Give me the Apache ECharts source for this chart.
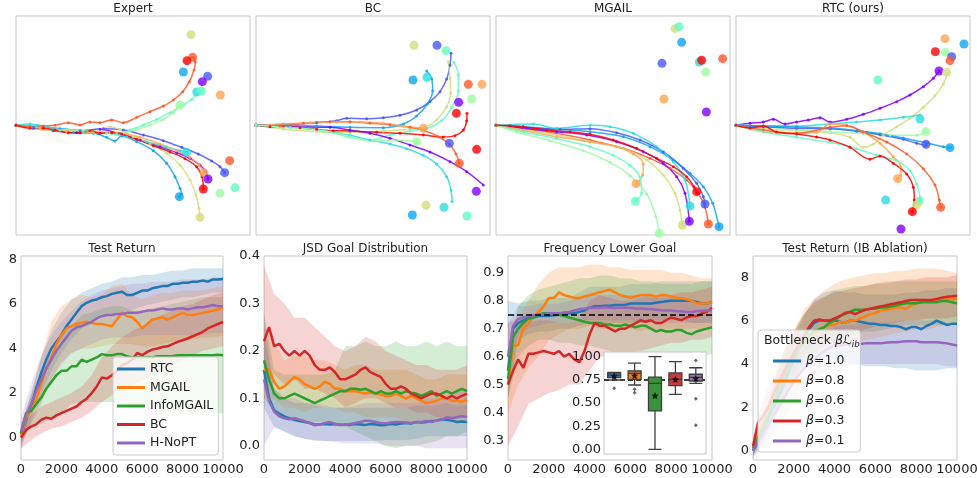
<!DOCTYPE html>
<html>
<head>
<meta charset="utf-8">
<script src="https://cdn.jsdelivr.net/npm/echarts@6.0.0/dist/echarts.min.js"></script>
<style>
html, body { margin: 0; padding: 0; background: #fff; }
#main { width: 977px; height: 478px; }
</style>
</head>
<body>
<div id="main"></div>
<script>
// rainbow colormap, 10 goals / agents
const trajColors = ['#8000ff', '#4757fb', '#0ea4f0', '#2adddd', '#63fbc3', '#9cfba4', '#d4dd80', '#ffa457', '#ff572c', '#ff0000']

// ---- top row: trajectories (plot units, y grows downwards) ----
// goals: [x, y, colour]
const expertGoals = [[573,104,6],[578,172,8],[561,182,9],[550,216,2],[623,229,1],[607,245,0],[590,276,3],[604,273,4],[661,285,7],[540,315,5],
  [560,457,3],[689,482,8],[674,518,1],[612,518,7],[624,537,0],[610,567,9],[705,563,4],[660,580,5],[538,590,2],[600,652,6]]
const expertPaths = [
  [0, [[48,376],[100,385],[160,392],[230,398],[300,388],[360,402],[420,420],[480,440],[530,458],[570,475],[600,495],[617,515],[624,537]]],
  [1, [[48,376],[110,380],[180,386],[240,392],[310,386],[370,390],[430,405],[490,422],[545,442],[595,462],[635,483],[660,500],[674,518]]],
  [2, [[48,376],[100,382],[160,390],[220,398],[280,400],[320,412],[345,423],[365,408],[410,425],[460,452],[500,490],[525,530],[540,565],[545,582],[538,590]]],
  [3, [[48,376],[90,372],[140,380],[200,388],[260,392],[320,398],[380,410],[440,425],[500,442],[540,452],[560,457]]],
  [4, [[48,376],[110,382],[180,390],[250,395],[320,400],[360,405],[390,390],[430,375],[470,358],[510,338],[545,318],[575,298],[595,280],[604,273]]],
  [5, [[48,376],[120,384],[200,390],[270,392],[330,400],[370,398],[410,388],[450,375],[490,358],[520,338],[540,315]]],
  [6, [[48,376],[90,383],[130,390],[200,392],[270,395],[330,380],[360,388],[400,410],[450,432],[500,460],[540,495],[570,540],[588,585],[597,625],[600,652]]],
  [7, [[48,376],[120,386],[200,394],[280,398],[350,398],[420,412],[480,432],[530,452],[570,472],[598,495],[612,518]]],
  [8, [[48,376],[90,380],[130,378],[165,376],[205,368],[240,375],[270,366],[300,368],[335,360],[370,368],[410,352],[450,335],[490,318],[520,300],[548,275],[568,245],[582,210],[586,185],[578,172]]],
  [9, [[48,376],[90,385],[130,385],[165,390],[205,398],[240,398],[270,392],[300,400],[335,398],[365,402],[410,418],[460,437],[510,456],[555,476],[590,500],[606,530],[610,567]]]
]

const bcGoals = [[492,136,6],[561,136,1],[588,152,4],[489,240,2],[531,232,3],[655,253,8],[696,253,7],[626,307,0],[665,297,5],[619,340,9],
  [598,430,1],[680,448,9],[628,490,8],[679,574,0],[528,616,6],[582,622,3],[487,645,2],[651,648,4],[520,385,7],[500,425,5]]
const bcPaths = [
  [1, [[18,376],[100,373],[200,368],[260,362],[290,355],[350,356],[400,353],[450,346],[500,330],[540,305],[570,275],[590,237],[600,195],[603,160]]],
  [2, [[18,376],[100,375],[200,378],[300,382],[400,383],[460,372],[500,348],[532,312],[548,272],[545,236],[530,213]]],
  [6, [[18,376],[100,387],[200,395],[300,397],[400,393],[480,388],[525,382],[560,360],[590,320],[602,280],[600,235],[595,185]]],
  [4, [[18,376],[120,380],[220,392],[300,412],[360,420],[420,405],[480,393],[530,385],[575,362],[605,322],[625,272],[625,225],[612,187]]],
  [9, [[18,376],[60,380],[100,377],[150,383],[200,388],[250,392],[300,393],[380,397],[450,400],[520,405],[580,411],[615,407],[640,390],[650,362],[651,340]]],
  [8, [[18,376],[90,378],[160,370],[240,365],[300,365],[360,370],[420,374],[480,382],[525,392],[565,410],[598,432],[618,462],[628,490]]],
  [7, [[18,376],[100,372],[180,368],[260,366],[330,366],[400,370],[460,378],[520,385]]],
  [0, [[18,376],[120,380],[240,382],[300,390],[360,400],[420,415],[480,435],[540,456],[600,485],[650,515],[700,555]]],
  [3, [[18,376],[120,382],[220,392],[300,406],[360,420],[420,432],[470,446],[520,466],[560,492],[590,530],[603,570],[606,605]]],
  [5, [[18,376],[120,383],[220,392],[300,410],[370,423],[430,420],[500,425]]]
]

const mgailGoals = [[555,86,6],[567,80,4],[575,127,2],[516,190,1],[628,186,3],[635,181,9],[698,176,8],[647,216,5],[522,297,7],[649,336,0],
  [438,551,7],[436,604,4],[508,700,5],[600,618,3],[645,612,1],[577,675,6],[598,664,0],[655,672,8],[687,680,2],[620,575,9]]
const mgailPaths = [
  [2, [[18,376],[100,380],[200,388],[300,395],[400,410],[480,440],[550,480],[600,520],[640,560],[668,610],[687,680]]],
  [8, [[18,376],[100,386],[200,400],[300,420],[400,445],[480,475],[540,505],[590,540],[625,580],[645,622],[655,672]]],
  [1, [[18,376],[100,382],[210,388],[300,386],[380,398],[450,420],[520,456],[580,505],[620,550],[640,590],[645,612]]],
  [3, [[18,376],[130,372],[200,385],[300,376],[360,380],[430,400],[500,440],[550,486],[585,540],[600,618]]],
  [0, [[18,376],[100,385],[200,395],[290,405],[380,425],[460,455],[520,490],[560,530],[585,580],[598,664]]],
  [6, [[18,376],[100,390],[200,405],[300,425],[400,446],[470,480],[520,525],[555,580],[570,630],[577,675]]],
  [7, [[18,376],[100,392],[200,410],[300,426],[380,440],[430,462],[460,492],[458,525],[438,551]]],
  [4, [[18,376],[100,396],[200,416],[300,440],[370,466],[420,496],[450,532],[455,580],[436,604]]],
  [5, [[18,376],[80,396],[180,422],[280,452],[360,487],[420,527],[470,582],[498,650],[508,700]]],
  [9, [[18,376],[60,377],[100,380],[170,390],[240,395],[300,403],[370,420],[440,445],[500,475],[550,500],[590,530],[612,560],[620,578]]]
]

const rtcGoals = [[645,116,7],[702,132,2],[616,155,9],[646,157,5],[665,170,1],[660,182,8],[627,213,0],[650,217,6],[444,240,4],[570,357,3],
  [588,395,5],[588,433,1],[660,443,2],[503,536,7],[467,600,3],[568,603,4],[560,615,6],[547,635,9],[632,622,8],[513,687,0]]
const rtcPaths = [
  [0, [[18,376],[60,370],[100,366],[130,358],[165,372],[200,366],[235,360],[270,353],[300,366],[350,358],[400,343],[450,325],[500,305],[540,285],[580,260],[610,235],[627,213]]],
  [6, [[18,376],[100,386],[200,392],[300,398],[360,412],[400,442],[430,432],[460,405],[500,380],[540,355],[580,322],[615,287],[640,252],[652,220]]],
  [3, [[18,376],[100,378],[200,378],[300,372],[380,366],[450,360],[520,352],[570,345]]],
  [5, [[18,376],[100,380],[200,390],[300,396],[400,401],[480,405],[560,406],[588,395]]],
  [1, [[18,376],[100,380],[200,385],[300,386],[380,394],[450,404],[520,418],[560,430],[588,437]]],
  [2, [[18,376],[100,378],[200,381],[300,384],[380,392],[450,401],[520,414],[590,429],[640,440],[660,443]]],
  [7, [[18,376],[100,395],[200,400],[260,397],[300,372],[350,376],[400,396],[450,430],[490,470],[512,500],[512,525],[503,536]]],
  [8, [[18,376],[100,390],[200,400],[300,382],[350,377],[400,396],[470,426],[530,462],[580,506],[615,555],[628,600],[632,622]]],
  [4, [[18,376],[100,396],[200,412],[300,427],[380,446],[440,466],[500,482],[540,512],[560,552],[570,595],[568,603]]],
  [9, [[18,376],[60,384],[100,378],[140,396],[200,402],[260,411],[300,420],[360,442],[420,478],[450,468],[490,490],[530,522],[550,562],[553,600],[547,635]]]
]

// ---- bottom row: training curves ----
const methodNames = ['RTC', 'MGAIL', 'InfoMGAIL', 'BC', 'H-NoPT']
const betaNames = ['β=1.0', 'β=0.8', 'β=0.6', 'β=0.3', 'β=0.1']
const lineColors = ['#1f77b4', '#ff7f0e', '#2ca02c', '#d62728', '#9467bd']

const steps = [0,250,500,750,1000,1250,1500,1750,2000,2250,2500,2750,3000,3250,3500,3750,4000,4250,4500,4750,5000,
  5250,5500,5750,6000,6250,6500,6750,7000,7250,7500,7750,8000,8250,8500,8750,9000,9250,9500,9750,10000]
const bandSteps = [0,500,1000,1500,2000,2500,3000,3500,4000,4500,5000,5500,6000,6500,7000,7500,8000,8500,9000,9500,10000]

// Test Return
const retRTC = [0.1,0.8,1.4,2.2,2.9,3.5,4.0,4.3,4.6,5.0,5.3,5.6,5.9,6.05,6.15,6.2,6.3,6.35,6.45,6.5,6.55,6.4,6.4,6.5,6.6,6.6,6.7,6.75,6.8,6.8,6.9,6.9,6.95,6.95,7.0,7.0,7.05,7.0,7.1,7.1,7.12]
const retMGAIL = [0.1,0.9,1.2,1.7,2.4,3.1,3.6,4.2,4.6,4.9,5.0,5.1,5.15,5.2,5.15,5.1,5.1,5.05,5.0,5.3,5.6,5.45,5.4,5.2,4.9,5.1,5.3,5.35,5.4,5.3,5.4,5.5,5.6,5.5,5.5,5.55,5.6,5.65,5.7,5.75,5.85]
const retInfo = [0.2,1.1,1.2,1.5,1.8,2.2,2.5,2.8,3.0,3.0,3.2,3.2,3.5,3.4,3.5,3.6,3.75,3.7,3.7,3.75,3.75,3.65,3.6,3.6,3.6,3.6,3.6,3.65,3.65,3.65,3.65,3.7,3.7,3.7,3.7,3.7,3.7,3.7,3.7,3.72,3.7]
const retBC = [0.0,0.35,0.5,0.6,0.8,0.9,0.85,1.0,1.1,1.2,1.3,1.4,1.6,1.75,2.0,2.3,2.7,2.65,2.8,3.0,3.25,3.35,3.5,3.8,3.7,3.85,3.95,4.0,4.07,4.1,4.2,4.3,4.37,4.45,4.55,4.65,4.75,4.9,5.0,5.1,5.2]
const retHNoPT = [0.3,1.0,1.5,2.1,2.6,3.1,3.5,3.9,4.2,4.5,4.8,4.95,5.0,5.1,5.2,5.35,5.45,5.5,5.5,5.55,5.55,5.6,5.6,5.6,5.65,5.7,5.7,5.75,5.8,5.75,5.75,5.8,5.8,5.75,5.8,5.85,5.85,5.9,5.95,5.9,5.9]
const retLo = [
  [-0.4,0.9,2.0,3.0,3.8,4.4,4.9,5.2,5.4,5.5,5.6,5.7,5.9,6.0,6.1,6.2,6.3,6.3,6.4,6.5,6.5],
  [-0.3,0.6,1.5,2.6,3.4,3.8,4.0,4.0,4.1,4.2,4.2,4.2,4.1,4.1,4.2,4.3,4.3,4.4,4.5,4.5,4.6],
  [-0.2,0.5,0.6,0.9,1.1,1.5,1.6,1.6,1.6,1.6,1.6,1.5,1.4,1.3,1.2,1.2,1.1,1.1,1.1,1.1,1.1],
  [-0.5,-0.1,0.2,0.4,0.5,0.7,0.9,1.2,1.6,1.9,2.1,2.3,2.6,2.8,3.0,3.3,3.5,3.7,3.9,4.0,4.1],
  [-0.5,0.7,1.6,2.6,3.3,3.8,4.0,4.2,4.4,4.5,4.5,4.5,4.6,4.6,4.6,4.6,4.6,4.6,4.6,4.7,4.7]
]
const retHi = [
  [0.5,2.0,3.6,4.8,5.6,6.2,6.5,6.7,6.9,7.0,7.2,7.2,7.3,7.3,7.4,7.5,7.5,7.6,7.6,7.6,7.6],
  [0.6,1.9,3.6,5.2,5.9,6.2,6.4,6.3,6.4,6.8,6.9,6.4,6.2,6.4,6.5,6.5,6.6,6.6,6.6,6.7,6.8],
  [0.6,1.9,3.0,3.8,4.8,5.0,5.5,5.6,5.8,5.9,5.9,5.7,5.7,5.8,5.9,6.0,6.1,6.2,6.3,6.3,6.3],
  [0.5,1.0,1.4,1.6,1.8,2.0,2.3,2.8,3.6,4.1,4.5,4.8,5.0,5.3,5.5,5.7,5.9,6.0,6.2,6.4,6.5],
  [0.9,2.4,3.7,4.6,5.2,5.7,6.1,6.4,6.6,6.7,6.8,6.9,6.9,7.0,7.0,7.0,7.1,7.1,7.1,7.2,7.2]
]

// JSD Goal Distribution
const jsdRTC = [0.16,0.10,0.075,0.068,0.062,0.058,0.055,0.052,0.05,0.048,0.045,0.045,0.046,0.045,0.046,0.044,0.045,0.044,0.046,0.045,0.044,0.046,0.045,0.043,0.044,0.046,0.045,0.047,0.048,0.047,0.05,0.049,0.05,0.052,0.053,0.056,0.055,0.053,0.05,0.051,0.05]
const jsdMGAIL = [0.16,0.16,0.135,0.12,0.125,0.135,0.145,0.14,0.13,0.125,0.12,0.125,0.135,0.13,0.12,0.12,0.115,0.115,0.115,0.112,0.11,0.112,0.11,0.108,0.105,0.105,0.11,0.105,0.10,0.105,0.10,0.095,0.09,0.092,0.095,0.10,0.10,0.095,0.095,0.093,0.097]
const jsdInfo = [0.18,0.14,0.11,0.10,0.10,0.105,0.11,0.105,0.10,0.095,0.09,0.095,0.10,0.105,0.11,0.115,0.115,0.12,0.12,0.118,0.12,0.115,0.11,0.115,0.11,0.11,0.115,0.11,0.115,0.112,0.11,0.105,0.11,0.115,0.105,0.11,0.115,0.11,0.115,0.12,0.115]
const jsdBC = [0.22,0.25,0.21,0.215,0.2,0.19,0.2,0.19,0.2,0.19,0.17,0.16,0.16,0.165,0.155,0.14,0.14,0.145,0.15,0.16,0.165,0.155,0.15,0.145,0.13,0.12,0.12,0.125,0.12,0.11,0.105,0.1,0.105,0.11,0.11,0.105,0.1,0.105,0.10,0.105,0.11]
const jsdHNoPT = [0.14,0.095,0.072,0.062,0.058,0.056,0.058,0.055,0.052,0.048,0.043,0.045,0.048,0.05,0.046,0.045,0.044,0.046,0.048,0.05,0.053,0.052,0.05,0.048,0.047,0.049,0.05,0.05,0.049,0.048,0.05,0.05,0.052,0.05,0.053,0.055,0.06,0.058,0.06,0.062,0.06]
const jsdLo = [
  [0.08,0.04,0.03,0.02,0.015,0.012,0.01,0.01,0.01,0.01,0.01,0.01,0.012,0.012,0.012,0.015,0.02,0.02,0.02,0.02,0.02],
  [0.1,0.1,0.08,0.08,0.07,0.08,0.08,0.08,0.07,0.07,0.06,0.06,0.06,0.06,0.05,0.05,0.05,0.05,0.05,0.05,0.05],
  [0.1,0.07,0.06,0.05,0.05,0.05,0.05,0.04,0.04,0.03,0.02,0.01,0.0,-0.005,0.0,0.0,0.005,0.01,0.02,0.02,0.03],
  [0.12,0.15,0.13,0.14,0.12,0.12,0.11,0.1,0.08,0.09,0.1,0.1,0.09,0.08,0.08,0.07,0.07,0.06,0.06,0.06,0.06],
  [0.0,0.04,0.03,0.02,0.015,0.01,0.01,0.008,0.005,0.005,0.005,0.005,0.0,0.0,0.0,0.0,-0.005,-0.005,-0.005,-0.005,-0.005]
]
const jsdHi = [
  [0.24,0.12,0.1,0.09,0.09,0.085,0.08,0.08,0.08,0.08,0.08,0.08,0.08,0.08,0.08,0.085,0.085,0.085,0.09,0.085,0.085],
  [0.25,0.22,0.18,0.19,0.19,0.18,0.18,0.17,0.16,0.17,0.17,0.16,0.16,0.16,0.16,0.15,0.14,0.14,0.15,0.15,0.15],
  [0.28,0.16,0.15,0.15,0.15,0.15,0.15,0.16,0.21,0.21,0.22,0.21,0.21,0.22,0.21,0.21,0.22,0.21,0.22,0.21,0.21],
  [0.38,0.32,0.3,0.27,0.27,0.25,0.23,0.21,0.2,0.21,0.23,0.22,0.2,0.19,0.18,0.17,0.17,0.16,0.16,0.16,0.17],
  [0.28,0.12,0.1,0.1,0.09,0.09,0.085,0.08,0.08,0.085,0.09,0.09,0.09,0.09,0.09,0.09,0.1,0.1,0.1,0.12,0.12]
]

// Frequency Lower Goal
const frqRTC = [0.55,0.7,0.72,0.73,0.74,0.74,0.745,0.745,0.745,0.748,0.75,0.752,0.755,0.755,0.76,0.765,0.775,0.78,0.78,0.782,0.782,0.785,0.785,0.785,0.79,0.79,0.79,0.79,0.79,0.793,0.795,0.798,0.8,0.8,0.8,0.8,0.8,0.795,0.79,0.79,0.795]
const frqMGAIL = [0.5,0.64,0.64,0.7,0.72,0.74,0.76,0.78,0.81,0.81,0.83,0.82,0.815,0.81,0.81,0.815,0.82,0.825,0.83,0.835,0.84,0.83,0.82,0.815,0.81,0.815,0.82,0.82,0.82,0.815,0.82,0.82,0.815,0.81,0.81,0.805,0.8,0.79,0.79,0.79,0.795]
const frqInfo = [0.52,0.67,0.7,0.72,0.735,0.74,0.75,0.755,0.755,0.755,0.75,0.745,0.74,0.735,0.73,0.725,0.72,0.72,0.72,0.715,0.715,0.71,0.71,0.715,0.71,0.705,0.71,0.71,0.7,0.69,0.695,0.69,0.69,0.695,0.695,0.685,0.68,0.69,0.695,0.7,0.705]
const frqBC = [0.5,0.55,0.59,0.56,0.61,0.61,0.615,0.62,0.615,0.61,0.62,0.6,0.61,0.59,0.58,0.62,0.68,0.72,0.71,0.71,0.7,0.69,0.7,0.7,0.71,0.72,0.73,0.725,0.73,0.72,0.72,0.73,0.74,0.735,0.73,0.74,0.745,0.745,0.755,0.76,0.775]
const frqHNoPT = [0.6,0.71,0.735,0.74,0.745,0.748,0.75,0.752,0.755,0.755,0.755,0.758,0.76,0.765,0.77,0.772,0.775,0.775,0.775,0.777,0.775,0.775,0.775,0.775,0.775,0.772,0.772,0.77,0.77,0.768,0.766,0.765,0.765,0.762,0.762,0.76,0.76,0.762,0.764,0.765,0.765]
const frqLo = [
  [0.45,0.66,0.68,0.69,0.69,0.7,0.7,0.71,0.72,0.72,0.72,0.72,0.72,0.72,0.73,0.73,0.73,0.73,0.72,0.72,0.72],
  [0.4,0.5,0.56,0.6,0.66,0.68,0.7,0.7,0.71,0.7,0.7,0.7,0.7,0.69,0.7,0.7,0.7,0.7,0.7,0.7,0.7],
  [0.45,0.6,0.64,0.66,0.66,0.65,0.65,0.64,0.64,0.63,0.62,0.6,0.59,0.58,0.58,0.58,0.58,0.59,0.6,0.6,0.61],
  [0.28,0.35,0.43,0.45,0.47,0.48,0.5,0.5,0.55,0.6,0.6,0.6,0.61,0.62,0.63,0.64,0.65,0.65,0.66,0.66,0.67],
  [0.48,0.68,0.7,0.71,0.72,0.72,0.72,0.73,0.73,0.73,0.73,0.73,0.73,0.72,0.72,0.72,0.72,0.72,0.72,0.72,0.72]
]
const frqHi = [
  [0.8,0.79,0.8,0.8,0.81,0.81,0.81,0.83,0.85,0.85,0.85,0.85,0.86,0.86,0.86,0.87,0.87,0.87,0.87,0.87,0.87],
  [0.6,0.74,0.8,0.86,0.9,0.92,0.92,0.92,0.93,0.93,0.92,0.92,0.91,0.91,0.91,0.91,0.9,0.9,0.89,0.88,0.88],
  [0.6,0.78,0.82,0.84,0.85,0.86,0.87,0.88,0.88,0.89,0.89,0.88,0.88,0.87,0.87,0.86,0.86,0.86,0.86,0.87,0.87],
  [0.72,0.74,0.72,0.73,0.73,0.72,0.72,0.73,0.8,0.82,0.81,0.8,0.8,0.81,0.82,0.82,0.82,0.83,0.83,0.84,0.85],
  [0.72,0.78,0.78,0.79,0.79,0.79,0.8,0.81,0.82,0.82,0.82,0.82,0.82,0.82,0.81,0.81,0.81,0.8,0.8,0.8,0.8]
]

// Test Return (IB Ablation)
const ibB10 = [0.0,0.5,1.0,1.5,2.0,2.5,3.0,3.6,4.2,4.7,5.2,5.6,5.9,6.0,6.0,6.0,6.0,5.95,5.9,6.0,6.0,5.95,5.9,5.85,5.85,5.8,5.8,5.75,5.75,5.7,5.6,5.7,5.7,5.6,5.75,5.85,6.0,5.9,5.8,5.85,5.85]
const ibB08 = [0.1,0.7,1.2,1.7,2.3,2.9,3.4,3.9,4.3,4.7,5.0,5.3,5.4,5.5,5.7,5.8,5.8,5.95,5.9,6.0,6.0,6.1,6.2,6.3,6.35,6.45,6.5,6.55,6.6,6.6,6.55,6.7,6.8,6.85,6.9,6.9,6.9,6.95,7.0,7.0,7.0]
const ibB06 = [0.1,0.6,1.1,1.6,2.2,2.8,3.3,3.8,4.3,4.7,5.0,5.3,5.5,5.6,5.7,5.9,6.0,6.2,6.3,6.4,6.5,6.5,6.5,6.55,6.55,6.6,6.6,6.65,6.7,6.75,6.8,6.8,6.8,6.85,6.85,6.85,6.85,6.9,6.9,6.85,6.8]
const ibB03 = [0.2,1.3,1.6,2.0,2.6,3.1,3.6,4.1,4.5,4.9,5.3,5.7,6.0,6.05,6.0,6.0,6.1,6.2,6.35,6.4,6.3,6.4,6.5,6.55,6.6,6.65,6.7,6.75,6.8,6.85,6.9,6.95,6.95,6.95,6.95,6.95,7.0,7.05,7.1,7.12,7.15]
const ibB01 = [0.0,0.4,0.8,1.2,1.6,2.0,2.4,2.8,3.2,3.5,3.8,4.0,4.2,4.4,4.6,4.75,4.85,4.85,4.9,4.9,4.9,4.92,4.95,4.95,4.95,4.95,4.98,5.0,5.0,5.02,5.05,5.05,5.05,5.0,5.0,5.0,5.0,4.98,4.95,4.9,4.85]
const ibLo = [
  [-0.3,0.4,1.3,2.3,3.2,3.7,4.2,4.3,4.1,4.0,4.0,3.9,3.9,3.9,3.8,3.8,3.7,3.7,3.7,3.8,3.8],
  [-0.2,0.6,1.5,2.6,3.3,4.0,4.4,4.6,4.8,4.9,5.0,5.1,5.2,5.3,5.4,5.5,5.6,5.6,5.7,5.8,5.8],
  [-0.2,0.5,1.4,2.5,3.3,4.1,4.5,4.8,5.0,5.2,5.4,5.5,5.5,5.6,5.7,5.8,5.8,5.8,5.8,5.8,5.8],
  [-0.2,0.8,1.8,2.8,3.6,4.4,4.9,5.1,5.3,5.4,5.5,5.6,5.7,5.8,5.9,6.0,6.0,6.1,6.1,6.1,6.2],
  [-0.3,0.2,0.8,1.5,2.2,2.8,3.3,3.6,3.8,3.9,4.0,4.0,4.0,4.0,4.0,4.0,4.0,4.0,4.0,3.9,3.9]
]
const ibHi = [
  [0.3,1.6,2.8,4.2,5.2,6.2,7.0,7.3,7.4,7.3,7.3,7.2,7.2,7.2,7.2,7.3,7.3,7.4,7.4,7.5,7.5],
  [0.4,1.8,3.1,4.6,5.5,6.5,7.0,7.4,7.7,7.9,8.0,8.1,8.2,8.2,8.3,8.3,8.4,8.4,8.4,8.3,8.2],
  [0.4,1.7,3.0,4.5,5.4,6.3,6.8,7.1,7.4,7.5,7.6,7.6,7.7,7.7,7.8,7.8,7.8,7.8,7.8,7.8,7.8],
  [0.6,2.4,3.4,4.6,5.5,6.3,6.9,7.1,7.3,7.4,7.5,7.6,7.7,7.8,7.8,7.9,7.9,8.0,8.0,8.0,8.1],
  [0.3,1.4,2.4,3.4,4.2,4.8,5.2,5.5,5.7,5.8,5.8,5.9,5.9,5.9,6.0,6.0,6.0,6.0,6.0,5.9,5.8]
]

// inset boxplot: [min, Q1, median, Q3, max]
const boxStats = [
  [0.748, 0.773, 0.80, 0.824, 0.83],
  [0.694, 0.755, 0.82, 0.845, 0.93],
  [0.0, 0.414, 0.712, 0.78, 1.0],
  [0.594, 0.687, 0.755, 0.824, 0.946],
  [0.712, 0.737, 0.777, 0.81, 0.88]
]
const boxOutliers = [[0, 0.658], [1, 0.647], [1, 0.61], [4, 0.957], [4, 0.547], [4, 0.259]]
const boxMeans = [0.79, 0.795, 0.58, 0.755, 0.766]
const boxColors = ['#3274a1', '#e1812c', '#3a923a', '#c03d3e', '#9372b2']

// ---- layout ----
const font = 'DejaVu Sans'
const topLeft = [16, 256, 496, 736]
const botLeft = [21, 264, 508, 753]
const botWidth = [202, 203, 204, 204]
const titleStyle = { fontSize: 12, fontWeight: 'normal', color: '#222', fontFamily: font }

const topPanels = [
  { title: 'Expert', goals: expertGoals, paths: expertPaths, xr: [48, 750] },
  { title: 'BC', goals: bcGoals, paths: bcPaths, xr: [18, 720] },
  { title: 'MGAIL', goals: mgailGoals, paths: mgailPaths, xr: [18, 720] },
  { title: 'RTC (ours)', goals: rtcGoals, paths: rtcPaths, xr: [18, 720] }
]

const bottomPanels = [
  { title: 'Test Return', names: methodNames, lines: [retRTC, retMGAIL, retInfo, retBC, retHNoPT], lo: retLo, hi: retHi, yr: [-1, 8.15], ticks: [0, 2, 4, 6, 8], dec: 0 },
  { title: 'JSD Goal Distribution', names: methodNames, lines: [jsdRTC, jsdMGAIL, jsdInfo, jsdBC, jsdHNoPT], lo: jsdLo, hi: jsdHi, yr: [-0.03, 0.4], ticks: [0, 0.1, 0.2, 0.3, 0.4], dec: 1 },
  { title: 'Frequency Lower Goal', names: methodNames, lines: [frqRTC, frqMGAIL, frqInfo, frqBC, frqHNoPT], lo: frqLo, hi: frqHi, yr: [0.23, 0.96], ticks: [0.3, 0.4, 0.5, 0.6, 0.7, 0.8, 0.9], dec: 1 },
  { title: 'Test Return (IB Ablation)', names: betaNames, lines: [ibB10, ibB08, ibB06, ibB03, ibB01], lo: ibLo, hi: ibHi, yr: [-0.43, 8.98], ticks: [0, 2, 4, 6, 8], dec: 0 }
]

// shaded min/max band drawn as one polygon through the axis scales
function bandSeries (gi, lo, hi, color) {
  return {
    type: 'custom', xAxisIndex: gi, yAxisIndex: gi, silent: true, z: 1, clip: true,
    data: bandSteps.map((s, n) => [s, lo[n], hi[n]]),
    encode: { x: 0, y: [1, 2] },
    renderItem: (params, api) => {
      if (params.dataIndexInside !== 0) return null
      const upper = []
      const lower = []
      for (let n = 0; n < params.dataInsideLength; n++) {
        upper.push(api.coord([api.value(0, n), api.value(2, n)]))
        lower.push(api.coord([api.value(0, n), api.value(1, n)]))
      }
      return {
        type: 'polygon',
        shape: { points: upper.concat(lower.reverse()) },
        style: { fill: color, opacity: 0.2 }
      }
    }
  }
}

const option = {
  animation: false,
  textStyle: { fontFamily: font },
  title: [], grid: [], xAxis: [], yAxis: [], legend: [], series: []
}

topPanels.forEach((p, i) => {
  option.grid.push({ left: topLeft[i], top: 16, width: 234, height: 219, show: true, borderColor: '#c8c8c8', borderWidth: 1, containLabel: false, outerBoundsMode: 'none' })
  option.xAxis.push({ type: 'value', gridIndex: i, min: p.xr[0], max: p.xr[1], show: false })
  option.yAxis.push({ type: 'value', gridIndex: i, min: 48, max: 705, inverse: true, show: false })
  option.title.push({ text: p.title, left: topLeft[i] + 117, top: 3, textAlign: 'center', padding: 0, textStyle: titleStyle })
  p.paths.forEach(([c, pts]) => {
    option.series.push({
      type: 'line', xAxisIndex: i, yAxisIndex: i, data: pts, smooth: 0.35,
      symbol: 'circle', symbolSize: 3, silent: true, z: 2,
      lineStyle: { width: 1.5, color: trajColors[c], opacity: 0.85 },
      itemStyle: { color: trajColors[c], opacity: 0.85 }
    })
  })
  option.series.push({
    type: 'scatter', xAxisIndex: i, yAxisIndex: i, symbolSize: 9, silent: true, z: 3,
    itemStyle: { opacity: 0.8 },
    data: p.goals.map(g => ({ value: [g[0], g[1]], itemStyle: { color: trajColors[g[2]] } }))
  })
})

bottomPanels.forEach((p, k) => {
  const i = k + 4
  option.grid.push({ left: botLeft[k], top: 256, width: botWidth[k], height: 204, show: true, borderColor: '#c8c8c8', borderWidth: 1, containLabel: false, outerBoundsMode: 'none' })
  option.xAxis.push({
    type: 'value', gridIndex: i, min: 0, max: 10000, interval: 2000,
    axisLine: { show: false }, axisTick: { show: false }, splitLine: { show: false },
    axisLabel: { fontSize: 13, color: '#222', margin: 3, showMinLabel: true, showMaxLabel: true, formatter: v => String(v) }
  })
  option.yAxis.push({
    type: 'value', gridIndex: i, min: p.yr[0], max: p.yr[1],
    axisLine: { show: false }, axisTick: { show: false }, splitLine: { show: false },
    axisLabel: { fontSize: 13, color: '#222', margin: 4, customValues: p.ticks, formatter: v => v.toFixed(p.dec) }
  })
  option.title.push({ text: p.title, left: botLeft[k] + botWidth[k] / 2, top: 243, textAlign: 'center', padding: 0, textStyle: titleStyle })
  p.lines.forEach((vals, j) => {
    option.series.push(bandSeries(i, p.lo[j], p.hi[j], lineColors[j]))
  })
  p.lines.forEach((vals, j) => {
    const s = {
      name: p.names[j], type: 'line', xAxisIndex: i, yAxisIndex: i,
      data: steps.map((x, n) => [x, vals[n]]), symbol: 'none', z: 2,
      lineStyle: { width: 2.5, color: lineColors[j] }, itemStyle: { color: lineColors[j] }
    }
    if (k === 2 && j === 0) {
      s.markLine = {
        silent: true, symbol: ['none', 'none'], label: { show: false },
        lineStyle: { type: [6, 3], color: '#000', width: 1.6 },
        data: [{ yAxis: 0.75 }]
      }
    }
    option.series.push(s)
  })
})

// inset boxplot in "Frequency Lower Goal"
option.grid.push({ left: 604, top: 352, width: 102, height: 102, show: true, backgroundColor: '#fff', borderColor: '#c8c8c8', borderWidth: 1, z: 5, containLabel: false, outerBoundsMode: 'none' })
option.xAxis.push({ type: 'category', gridIndex: 8, data: methodNames, z: 6, axisLine: { show: false }, axisTick: { show: false }, axisLabel: { show: false } })
option.yAxis.push({
  type: 'value', gridIndex: 8, min: -0.05, max: 1.05, z: 6,
  axisLine: { show: false }, axisTick: { show: false }, splitLine: { show: false },
  axisLabel: { fontSize: 13, color: '#222', margin: 3, customValues: [0, 0.25, 0.5, 0.75, 1], formatter: v => v.toFixed(2) }
})
option.series.push({
  type: 'boxplot', xAxisIndex: 8, yAxisIndex: 8, boxWidth: [13, 13], z: 6, silent: true,
  itemStyle: { borderColor: '#3f3f3f', borderWidth: 1.3 },
  data: boxStats.map((b, n) => ({ value: b, itemStyle: { color: boxColors[n] } })),
  markLine: {
    silent: true, symbol: ['none', 'none'], label: { show: false },
    lineStyle: { type: [5, 3], color: '#000', width: 1.5 },
    data: [{ yAxis: 0.75 }]
  }
})
option.series.push({
  type: 'scatter', xAxisIndex: 8, yAxisIndex: 8, z: 7, silent: true,
  symbol: 'diamond', symbolSize: 4, itemStyle: { color: '#444' },
  data: boxOutliers
})
option.series.push({
  type: 'scatter', xAxisIndex: 8, yAxisIndex: 8, z: 8, silent: true,
  symbol: 'path://M0,-10L2.9,-4L9.5,-3.1L4.7,1.5L5.9,8.1L0,5L-5.9,8.1L-4.7,1.5L-9.5,-3.1L-2.9,-4Z',
  symbolSize: 7, itemStyle: { color: '#000' },
  data: boxMeans.map((m, n) => [n, m])
})

// legends
option.legend.push({
  data: methodNames, orient: 'vertical', left: 113, top: 357,
  icon: 'rect', itemWidth: 28, itemHeight: 3, itemGap: 2.5,
  padding: [4, 5, 4, 4],
  backgroundColor: 'rgba(255,255,255,0.8)', borderColor: '#cccccc', borderWidth: 1, borderRadius: 3,
  textStyle: { fontSize: 12.5, color: '#222', lineHeight: 16 }
})
option.legend.push({
  data: betaNames, orient: 'vertical', left: 758, top: 330,
  icon: 'rect', itemWidth: 28, itemHeight: 3, itemGap: 4,
  padding: [23, 16, 3, 15],
  backgroundColor: 'rgba(255,255,255,0.8)', borderColor: '#cccccc', borderWidth: 1, borderRadius: 3,
  formatter: name => '{i|β}{n|' + name.slice(1) + '}',
  textStyle: { fontSize: 12.5, color: '#222', lineHeight: 16, rich: { i: { fontStyle: 'italic', fontSize: 12.5 }, n: { fontSize: 12.5 } } }
})
option.title.push({
  text: '{n|Bottleneck }{i|β}{c|ℒ}{s|ib}', left: 764, top: 333, padding: 0, z: 8,
  textStyle: {
    fontSize: 12.5, color: '#222', fontWeight: 'normal',
    rich: {
      n: { fontSize: 12.5, color: '#222' },
      i: { fontSize: 12.5, color: '#222', fontStyle: 'italic' },
      c: { fontSize: 12.5, color: '#222', fontStyle: 'italic' },
      s: { fontSize: 8.5, color: '#222', fontStyle: 'italic', padding: [7, 0, 0, 0] }
    }
  }
})

const myChart = echarts.init(document.getElementById('main'))
myChart.setOption(option)
</script>
</body>
</html>
